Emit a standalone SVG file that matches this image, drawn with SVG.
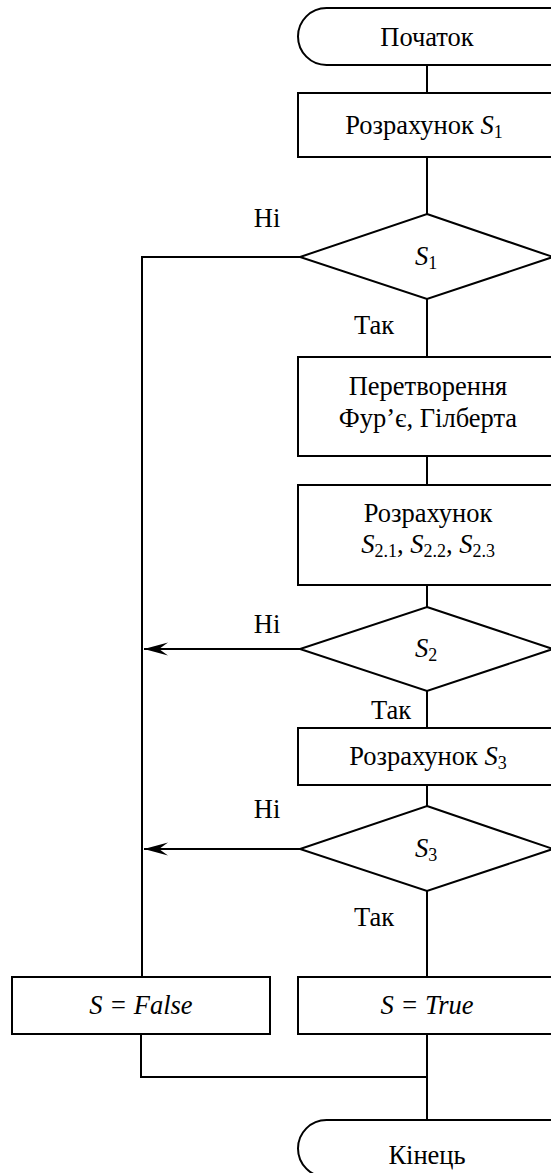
<svg xmlns="http://www.w3.org/2000/svg" width="551" height="1173" viewBox="0 0 551 1173">
<style>
.s{fill:#fff;stroke:#000;stroke-width:2}
.c{fill:none;stroke:#000;stroke-width:2}
text{font-family:'Liberation Serif','Times New Roman',Tinos,'DejaVu Serif',serif;font-size:26.5px;fill:#000;text-anchor:middle}
.i{font-style:italic}
.sub{font-size:18px;font-style:normal}
</style>
<defs>
<marker id="ah" markerUnits="userSpaceOnUse" markerWidth="26" markerHeight="16" refX="25" refY="8" orient="auto" viewBox="0 0 26 16">
<path d="M25,8 L1,1.5 L10,8 L1,14.5 Z" fill="#000"/>
</marker>
</defs>
<g id="connectors">
<path class="c" d="M427,65 V93 M427,157 V214 M427,299 V357 M427,456 V485 M427,585 V607 M427,691 V728 M427,785 V806 M427,891 V977 M427,1034 V1120"/>
<path class="c" d="M300,257 H142 V977"/>
<path class="c" d="M300,649 H144" marker-end="url(#ah)"/>
<path class="c" d="M300,849 H144" marker-end="url(#ah)"/>
<path class="c" d="M141,1034 V1077 H427"/>
<text x="267" y="227">Ні</text>
<text x="374" y="334">Так</text>
<text x="267" y="633">Ні</text>
<text x="391" y="719">Так</text>
<text x="267" y="818">Ні</text>
<text x="374" y="926">Так</text>
</g>
<g id="start">
<rect class="s" x="298" y="8" width="282" height="57" rx="28.5"/>
<text x="427" y="46">Початок</text>
</g>
<g id="calcS1">
<rect class="s" x="298" y="93" width="270" height="64"/>
<text x="424" y="134">Розрахунок <tspan class="i">S</tspan><tspan class="sub" dy="4">1</tspan></text>
</g>
<g id="decS1">
<polygon class="s" points="427,214 553,257 427,299 300,257"/>
<text x="426" y="265"><tspan class="i">S</tspan><tspan class="sub" dy="4">1</tspan></text>
</g>
<g id="transform">
<rect class="s" x="298" y="357" width="270" height="99"/>
<text x="428" y="395">Перетворення</text>
<text x="428" y="427">Фур’є, Гілберта</text>
</g>
<g id="calcS2">
<rect class="s" x="298" y="485" width="270" height="100"/>
<text x="428" y="522">Розрахунок</text>
<text x="428" y="553"><tspan class="i">S</tspan><tspan class="sub" dy="4">2.1</tspan><tspan dy="-4">, </tspan><tspan class="i">S</tspan><tspan class="sub" dy="4">2.2</tspan><tspan dy="-4">, </tspan><tspan class="i">S</tspan><tspan class="sub" dy="4">2.3</tspan></text>
</g>
<g id="decS2">
<polygon class="s" points="427,607 553,649 427,691 300,649"/>
<text x="426" y="657"><tspan class="i">S</tspan><tspan class="sub" dy="4">2</tspan></text>
</g>
<g id="calcS3">
<rect class="s" x="298" y="728" width="270" height="57"/>
<text x="428" y="765">Розрахунок <tspan class="i">S</tspan><tspan class="sub" dy="4">3</tspan></text>
</g>
<g id="decS3">
<polygon class="s" points="427,806 553,849 427,891 300,849"/>
<text x="426" y="857"><tspan class="i">S</tspan><tspan class="sub" dy="4">3</tspan></text>
</g>
<g id="false">
<rect class="s" x="12" y="977" width="258" height="57"/>
<text x="141" y="1014" class="i">S = False</text>
</g>
<g id="true">
<rect class="s" x="298" y="977" width="270" height="57"/>
<text x="427" y="1014" class="i">S = True</text>
</g>
<g id="end">
<rect class="s" x="298" y="1120" width="282" height="57" rx="28.5"/>
<text x="427" y="1164">Кінець</text>
</g>
</svg>
